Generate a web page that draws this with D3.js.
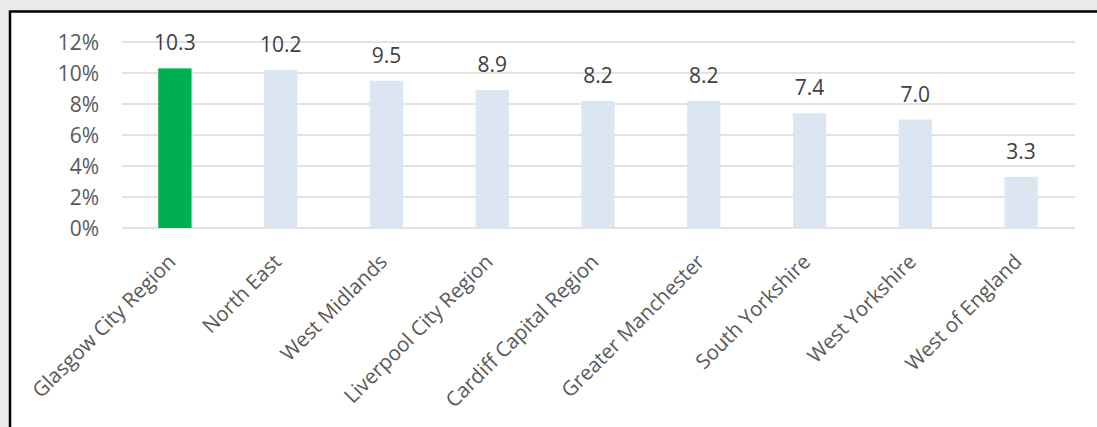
<!DOCTYPE html>
<html><head><meta charset="utf-8">
<script src="https://cdn.jsdelivr.net/npm/d3@7/dist/d3.min.js"></script>
<style>html,body{margin:0;padding:0;background:#eaeaea;overflow:hidden}</style>
</head><body>
<script>
const categories = ["Glasgow City Region","North East","West Midlands","Liverpool City Region","Cardiff Capital Region","Greater Manchester","South Yorkshire","West Yorkshire","West of England"];
const values = [10.3,10.2,9.5,8.9,8.2,8.2,7.4,7.0,3.3];
const yTicks = [0,2,4,6,8,10,12];

const W = 1097, H = 427;
const svg = d3.select("body").append("svg").attr("width", W).attr("height", H);
svg.append("rect").attr("x",0).attr("y",0).attr("width",W).attr("height",H).attr("fill","#eaeaea");
svg.append("rect").attr("x",10).attr("y",11.5).attr("width",W+20).attr("height",H+20)
  .attr("fill","#fff").attr("stroke","#000").attr("stroke-width",2.5);

const font = "'Open Sans', sans-serif";
const x = d3.scaleBand().domain(categories).range([122, 1074]).paddingInner(0.685).paddingOuter(0.3425);
const y = d3.scaleLinear().domain([0,12]).range([228, 42]);

const g = svg.append("g");
g.selectAll("line.grid").data(yTicks).join("line").attr("class","grid")
  .attr("x1",122).attr("x2",1075).attr("y1",d=>y(d)).attr("y2",d=>y(d))
  .attr("stroke","#d9d9d9").attr("stroke-width",1.5);

const yAxis = d3.axisLeft(y).tickValues(yTicks).tickFormat(d=>d+"%").tickSize(0).tickPadding(0);
const ya = svg.append("g").attr("transform","translate(99,0)").call(yAxis);
ya.select(".domain").remove();
ya.selectAll("text").attr("font-family",font).attr("font-size",21).attr("fill","#595959").attr("dy","0.36em");

g.selectAll("rect.bar").data(values).join("rect").attr("class","bar")
  .attr("x",(d,i)=>x(categories[i])).attr("width",x.bandwidth())
  .attr("y",d=>y(d)).attr("height",d=>y(0)-y(d))
  .attr("fill",(d,i)=>i===0?"#00b050":"#dce6f2");

g.selectAll("text.lab").data(values).join("text").attr("class","lab")
  .attr("x",(d,i)=>x(categories[i])+x.bandwidth()/2).attr("y",d=>y(d)-18)
  .attr("text-anchor","middle").attr("font-family",font).attr("font-size",21).attr("fill","#404040")
  .text(d=>d.toFixed(1));

const xAxis = d3.axisBottom(x).tickSize(0).tickPadding(0);
const xa = svg.append("g").attr("transform","translate(0,228)").call(xAxis);
xa.select(".domain").remove();
xa.selectAll("text").attr("font-family",font).attr("font-size",20.5).attr("fill","#595959")
  .attr("text-anchor","end").attr("dy",0).attr("y",0)
  .attr("transform","translate(2,35) rotate(-45)");
</script>
</body></html>
